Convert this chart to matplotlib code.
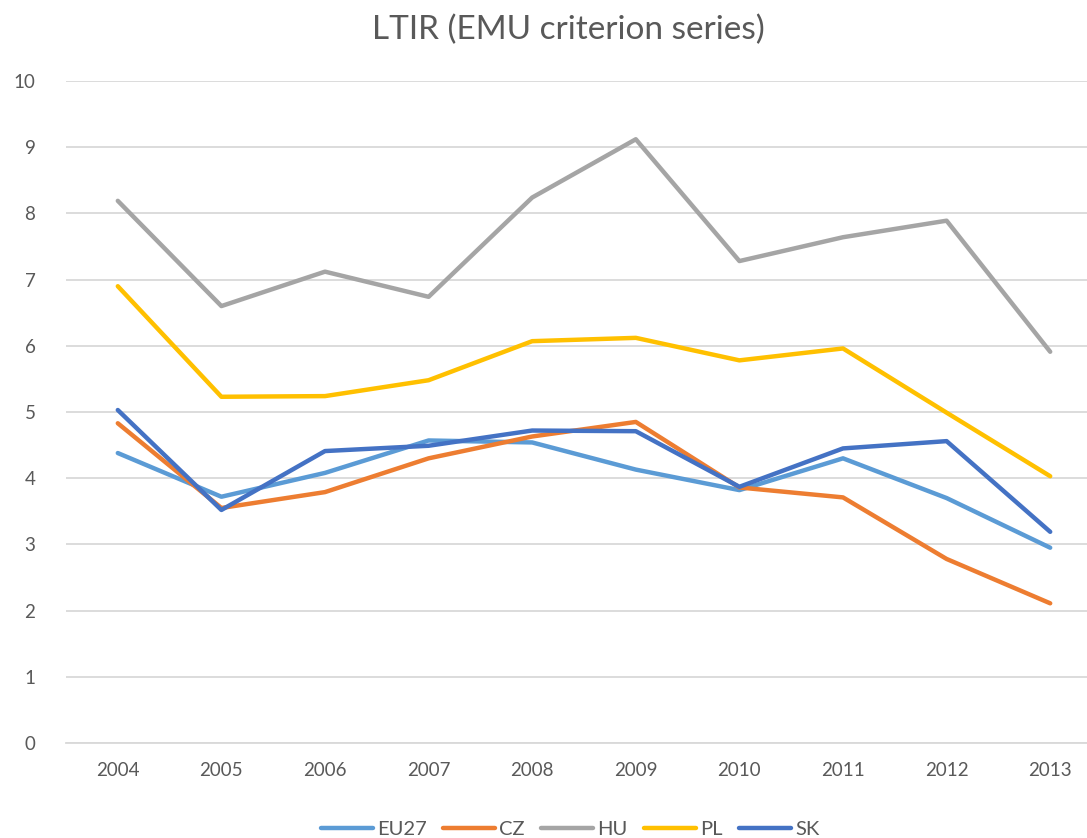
import matplotlib.pyplot as plt

years = ['2004', '2005', '2006', '2007', '2008', '2009', '2010', '2011', '2012', '2013']
eu27 = [4.38, 3.72, 4.08, 4.57, 4.54, 4.13, 3.82, 4.30, 3.70, 2.95]
cz = [4.83, 3.55, 3.79, 4.30, 4.63, 4.85, 3.86, 3.71, 2.78, 2.11]
hu = [8.19, 6.60, 7.12, 6.74, 8.24, 9.12, 7.28, 7.64, 7.89, 5.91]
pl = [6.90, 5.23, 5.24, 5.48, 6.07, 6.12, 5.78, 5.96, 4.99, 4.03]
sk = [5.03, 3.52, 4.41, 4.49, 4.72, 4.71, 3.87, 4.45, 4.56, 3.19]

series = [('EU27', eu27, '#5B9BD5'), ('CZ', cz, '#ED7D31'), ('HU', hu, '#A5A5A5'),
          ('PL', pl, '#FFC000'), ('SK', sk, '#4472C4')]

plt.rcParams['font.family'] = ['Lato', 'DejaVu Sans']

fig = plt.figure(figsize=(10.87, 8.38), dpi=100)
ax = fig.add_axes([66 / 1087, 1 - 743 / 838, 1036 / 1087, 662 / 838])

x = list(range(len(years)))
for name, vals, col in series:
    ax.plot(x, vals, color=col, lw=3.2, label=name, solid_capstyle='round', solid_joinstyle='round')

ax.set_xlim(-0.5, 9.5)
ax.set_ylim(0, 10)
ax.set_yticks(range(0, 11))
ax.set_xticks(x)
ax.set_xticklabels(years)
ax.grid(axis='y', color='#D9D9D9', lw=1.3)
ax.set_axisbelow(True)
for s in ['top', 'right', 'left']:
    ax.spines[s].set_visible(False)
ax.spines['bottom'].set_color('#D9D9D9')
ax.spines['bottom'].set_linewidth(1.3)
ax.tick_params(axis='both', length=0, colors='#595959', labelsize=13.5)
ax.tick_params(axis='x', pad=14)
ax.tick_params(axis='y', pad=22)

fig.text(568 / 1087, 1 - 30 / 838, 'LTIR (EMU criterion series)', ha='center', va='center',
         fontsize=24, color='#595959')

fig.legend(loc='center', bbox_to_anchor=(570 / 1087, 9 / 838), ncol=5, frameon=False,
           fontsize=14.5, handlelength=2.6, columnspacing=0.8, handletextpad=0.2,
           labelcolor='#595959')

fig.savefig('out.png', dpi=100)
